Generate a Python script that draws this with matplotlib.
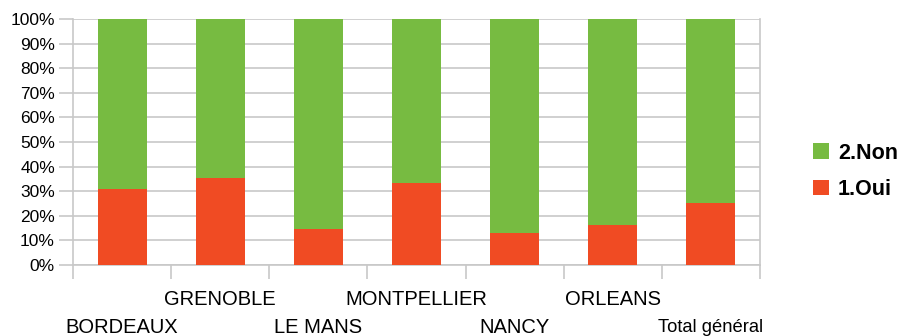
import numpy as np
import matplotlib
matplotlib.use("Agg")
import matplotlib.pyplot as plt
from matplotlib import font_manager

# data
categories = ["BORDEAUX", "GRENOBLE", "LE MANS", "MONTPELLIER", "NANCY", "ORLEANS", "Total général"]
oui = [30.9, 35.4, 14.6, 33.3, 13.0, 16.3, 25.2]
non = [100 - v for v in oui]

GREEN = "#77bb41"
RED = "#f04b23"
GRID = "#c8c8c8"

names = {f.name for f in font_manager.fontManager.ttflist}
main_font = "Liberation Sans" if "Liberation Sans" in names else "DejaVu Sans"
narrow_font = "Liberation Sans Narrow" if "Liberation Sans Narrow" in names else main_font
plt.rcParams['font.family'] = [main_font, 'DejaVu Sans']

fig = plt.figure(figsize=(8.98, 3.36), dpi=100)
ax = fig.add_axes([0.0813, 0.2113, 0.765, 0.732])

x = np.arange(len(categories))
ax.bar(x, oui, width=0.5, color=RED, label="1.Oui", zorder=3)
ax.bar(x, non, width=0.5, bottom=oui, color=GREEN, label="2.Non", zorder=3)

ax.set_xlim(-0.5, len(categories) - 0.5)
ax.set_ylim(0, 100)

ax.set_yticks(np.arange(0, 101, 10))
ax.set_yticklabels([f"{v}%" for v in range(0, 101, 10)], fontsize=12.5)
ax.yaxis.grid(True, color=GRID, linewidth=1.2, zorder=0)
ax.tick_params(axis="y", length=10, color=GRID, width=1.2, pad=3)

# category ticks sit between bars
ax.set_xticks(np.arange(-0.5, len(categories), 1.0))
ax.set_xticklabels([])
ax.tick_params(axis="x", length=10, color=GRID, width=1.2)

for i, name in enumerate(categories):
    yoff = -0.14 if i % 2 == 1 else -0.255
    size = 14.5
    fam = None
    if name == "Total général":
        fam = [narrow_font, 'DejaVu Sans']
        size = 14.5 if narrow_font != main_font else 13.2
    ax.text(i, yoff, name, transform=ax.get_xaxis_transform(), ha="center", va="center",
            fontsize=size, family=fam, clip_on=False)

for side in ["left", "right", "bottom"]:
    ax.spines[side].set_color(GRID)
    ax.spines[side].set_linewidth(1.2)
ax.spines["top"].set_visible(False)

handles, labels = ax.get_legend_handles_labels()
leg = fig.legend(handles[::-1], labels[::-1], loc="center left", bbox_to_anchor=(0.884, 0.49),
                 frameon=False, prop={"weight": "bold", "size": 15.5},
                 handlelength=0.75, handleheight=0.75, handletextpad=0.4, labelspacing=0.7)

fig.savefig("out.png", dpi=100)
